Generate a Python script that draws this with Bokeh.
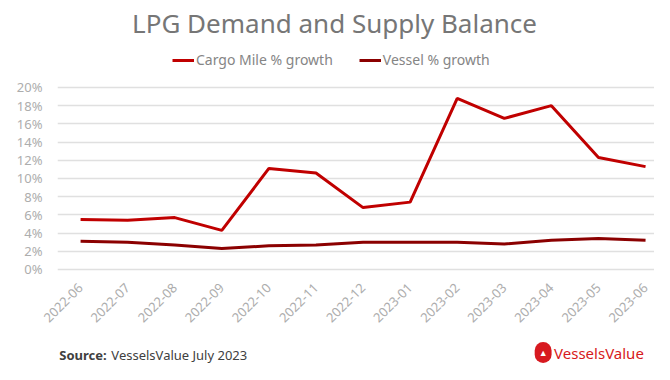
import math
from bokeh.plotting import figure
from bokeh.layouts import column
from bokeh.models import (ColumnDataSource, Legend, LegendItem, FixedTicker,
                          PrintfTickFormatter, Label)
from bokeh.embed import file_html
from bokeh.resources import INLINE

months = ["2022-06", "2022-07", "2022-08", "2022-09", "2022-10", "2022-11", "2022-12",
          "2023-01", "2023-02", "2023-03", "2023-04", "2023-05", "2023-06"]
cargo_mile_growth = [5.5, 5.4, 5.7, 4.3, 11.1, 10.6, 6.8, 7.4, 18.8, 16.6, 18.0, 12.3, 11.3]
vessel_growth = [3.1, 3.0, 2.7, 2.3, 2.6, 2.7, 3.0, 3.0, 3.0, 2.8, 3.2, 3.4, 3.2]
y_ticks = [0, 2, 4, 6, 8, 10, 12, 14, 16, 18, 20]

FONT = "Noto Sans"
idx = list(range(len(months)))
src = ColumnDataSource(dict(x=idx, cargo=cargo_mile_growth, vessel=vessel_growth))

p = figure(width=654, height=340, output_backend="svg", toolbar_location=None,
           x_range=(-0.49, 12.19), y_range=(-0.22, 29.0),
           min_border_left=57, min_border_right=0, min_border_top=5, min_border_bottom=69)

r1 = p.line("x", "cargo", source=src, line_color="#C00000", line_width=3)
r2 = p.line("x", "vessel", source=src, line_color="#8B0000", line_width=3)

legend = Legend(items=[LegendItem(label="Cargo Mile % growth", renderers=[r1]),
                       LegendItem(label="Vessel % growth", renderers=[r2])],
                orientation="horizontal", location=(115, 202),
                label_text_font=FONT, label_text_font_size="14px",
                label_text_color="#858585", glyph_width=22, glyph_height=14,
                spacing=26, label_standoff=2, border_line_color=None,
                background_fill_alpha=0, padding=4, margin=0)
p.add_layout(legend)

p.xaxis.ticker = FixedTicker(ticks=idx)
p.xaxis.major_label_overrides = {i: m for i, m in enumerate(months)}
p.xaxis.major_label_orientation = math.pi / 4
p.yaxis.ticker = FixedTicker(ticks=y_ticks)
p.yaxis.formatter = PrintfTickFormatter(format="%d%%")
for ax in (p.xaxis, p.yaxis):
    ax.axis_line_color = None
    ax.major_tick_line_color = None
    ax.minor_tick_line_color = None
    ax.major_label_text_font = FONT
    ax.major_label_text_font_size = "13px"
    ax.major_label_text_color = "#ADADAD"
p.yaxis.major_label_standoff = 9
p.xaxis.major_label_standoff = 8

p.xgrid.grid_line_color = None
p.ygrid.grid_line_color = "#E0E0E0"
p.ygrid.grid_line_width = 1.5
p.outline_line_color = None

p.add_layout(Label(x=277, y=249, x_units="screen", y_units="screen",
                   text="LPG Demand and Supply Balance", text_align="center",
                   text_baseline="middle", text_font=FONT, text_font_size="26px",
                   text_color="#767676"))

# footer strip
f = figure(width=654, height=24, output_backend="svg", toolbar_location=None,
           x_range=(0, 654), y_range=(0, 24), min_border=0)
f.axis.visible = False
f.grid.visible = False
f.outline_line_color = None

f.add_layout(Label(x=2, y=10, text="Source:", text_font=FONT, text_font_style="bold",
                   text_baseline="middle", text_font_size="13px", text_color="#404040"))
f.add_layout(Label(x=59, y=10, text="VesselsValue July 2023", text_font=FONT,
                   text_baseline="middle", text_font_size="13px", text_color="#404040"))
f.add_layout(Label(x=532, y=12, text="▲", text_font=FONT, text_font_size="9px",
                   text_color="white", text_align="center", text_baseline="middle",
                   background_fill_color="#D71920", border_radius=9, padding=4))
f.add_layout(Label(x=544, y=12, text="VesselsValue", text_font=FONT,
                   text_baseline="middle", text_font_size="15px", text_color="#D71920"))

open("out.html", "w").write(file_html(column(p, f, spacing=0), INLINE))
